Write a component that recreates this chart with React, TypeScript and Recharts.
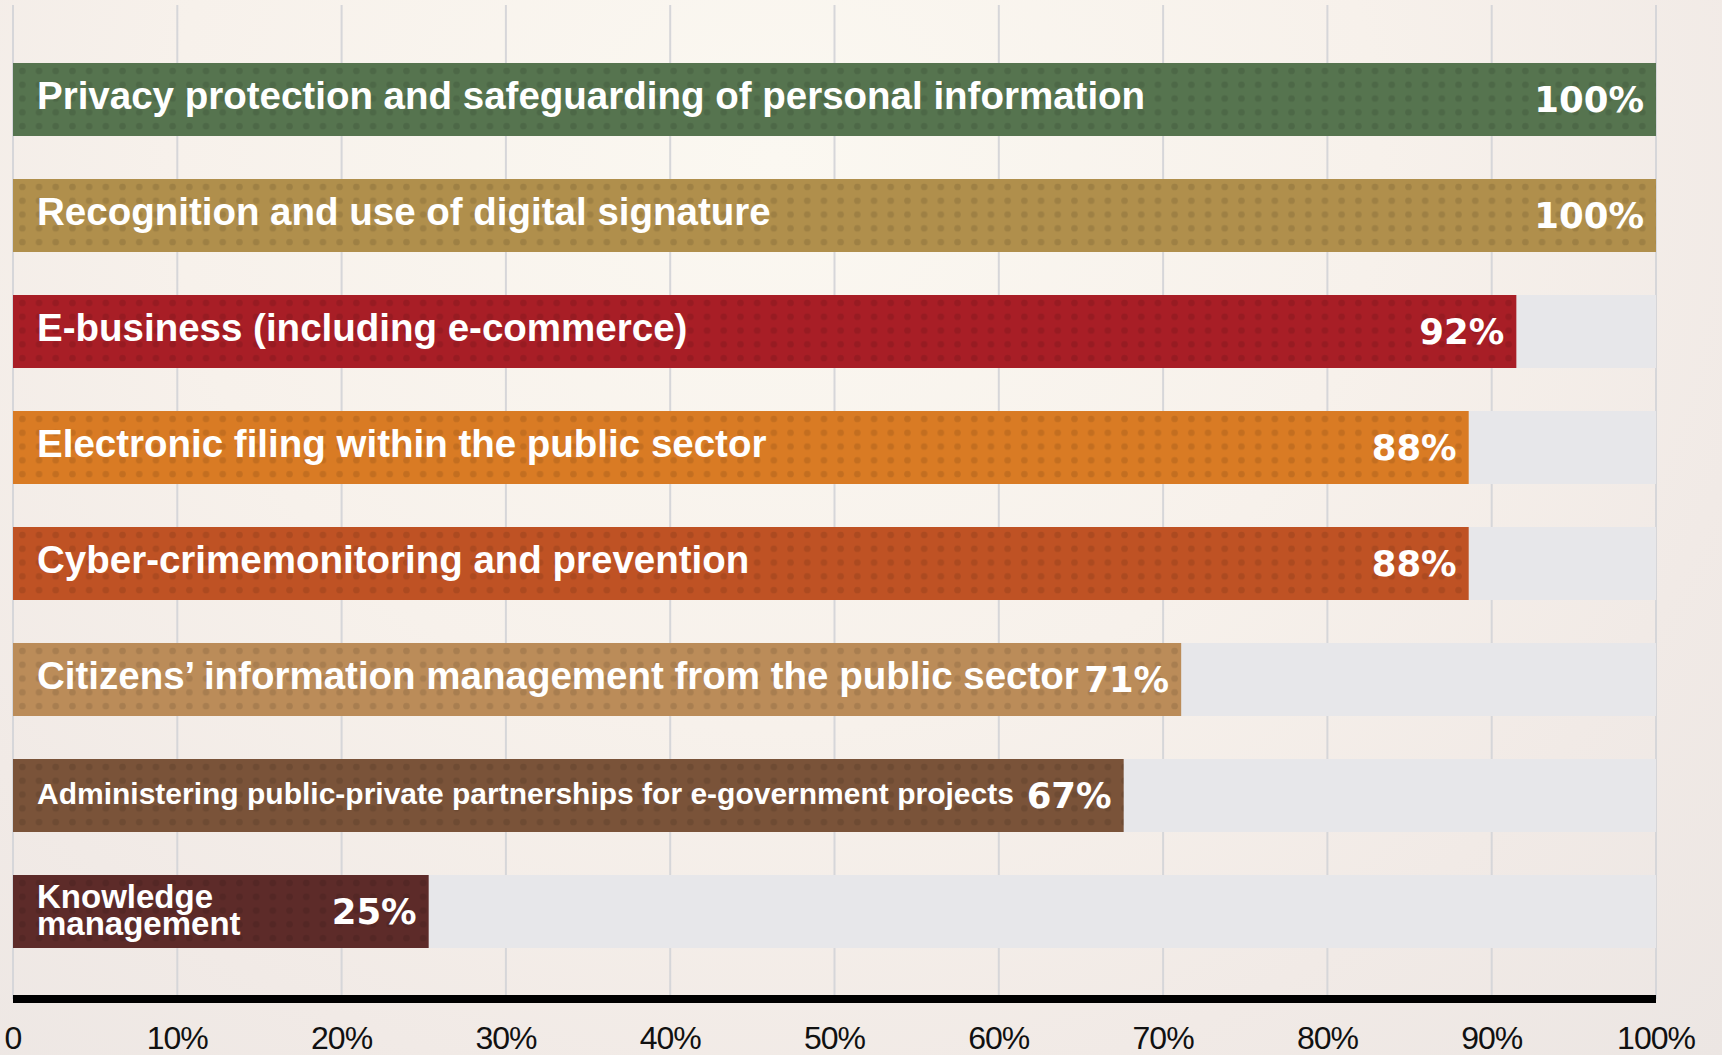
import React from 'react';
import { BarChart, Bar, XAxis, YAxis, CartesianGrid } from 'recharts';

const categories: string[] = [
  'Privacy protection and safeguarding of personal information',
  'Recognition and use of digital signature',
  'E-business (including e-commerce)',
  'Electronic filing within the public sector',
  'Cyber-crimemonitoring and prevention',
  'Citizens\u2019 information management from the public sector',
  'Administering public-private partnerships for e-government projects',
  'Knowledge\nmanagement',
];
// bar lengths as drawn in the picture (percent)
const values: number[] = [100, 100, 91.5, 88.6, 88.6, 71.1, 67.6, 25.3];
// printed value labels
const valueLabels: string[] = ['100%', '100%', '92%', '88%', '88%', '71%', '67%', '25%'];
const xTicks: number[] = [0, 10, 20, 30, 40, 50, 60, 70, 80, 90, 100];
const xTickLabels: string[] = ['0', '10%', '20%', '30%', '40%', '50%', '60%', '70%', '80%', '90%', '100%'];

const BAR_COLORS = ['#56744f', '#b08f4c', '#a81e26', '#d97b24', '#bf5224', '#bb8c59', '#7a5339', '#5d2b29'];
const NAME_SIZES = [38.5, 38.5, 38.5, 38.5, 38.5, 38.5, 30, 33];

const data = categories.map((name, i) => ({ name, value: values[i], label: valueLabels[i] }));

const LABEL_FONT = '"Liberation Sans", Arial, Helvetica, sans-serif';
const VALUE_FONT = '"DejaVu Sans", Verdana, sans-serif';

const BarShape = (props: any) => {
  const { x, y, width, height, index, payload } = props;
  const color = BAR_COLORS[index % BAR_COLORS.length];
  const cy = y + height / 2;
  const pid = `dots-${index}`;
  const nameSize = NAME_SIZES[index] ?? 38;
  const lines: string[] = String(payload.name).split('\n');
  return (
    <g>
      <defs>
        <pattern id={pid} patternUnits="userSpaceOnUse" x={x + 1} y={y + 1} width={16.7} height={13.8}>
          <circle cx={8.35} cy={6.9} r={3.3} fill="#000" fillOpacity={0.1} />
        </pattern>
      </defs>
      <rect x={x} y={y} width={width} height={height} fill={color} />
      <rect x={x} y={y} width={width} height={height} fill={`url(#${pid})`} />
      {lines.length === 1 ? (
        <text
          x={x + 24}
          y={cy - (nameSize >= 38 ? 4 : 2) + nameSize * 0.358}
          fill="#ffffff"
          fontFamily={LABEL_FONT}
          fontWeight="bold"
          fontSize={nameSize}
        >
          {lines[0]}
        </text>
      ) : (
        <text x={x + 24} fill="#ffffff" fontFamily={LABEL_FONT} fontWeight="bold" fontSize={nameSize}>
          <tspan x={x + 24} y={cy - 4}>{lines[0]}</tspan>
          <tspan x={x + 24} y={cy + 23}>{lines[1]}</tspan>
        </text>
      )}
      <text
        x={x + width - 12}
        y={cy + 35 * 0.365}
        textAnchor="end"
        fill="#ffffff"
        fontFamily={VALUE_FONT}
        fontWeight="bold"
        fontSize={35.5}
      >
        {payload.label}
      </text>
    </g>
  );
};

const XTick = (props: any) => {
  const { x, y, index } = props;
  return (
    <text
      x={x}
      y={y + 50}
      textAnchor="middle"
      fill="#111111"
      fontFamily={LABEL_FONT}
      fontSize={32}
      letterSpacing={-1}
    >
      {xTickLabels[index]}
    </text>
  );
};

export default function App() {
  return (
    <div
      style={{
        position: 'absolute',
        left: 0,
        top: 0,
        width: 1722,
        height: 1055,
        overflow: 'hidden',
        background:
          'radial-gradient(ellipse at 45% 15%, #fbf8f1 0%, #f7f1eb 45%, #f1eae6 75%, #ece6e3 100%)',
      }}
    >
      <BarChart
        width={1722}
        height={1055}
        data={data}
        layout="vertical"
        margin={{ top: 5, right: 66, left: 13, bottom: 0 }}
      >
        <CartesianGrid vertical horizontal={false} stroke="#d6d6d9" strokeWidth={2} />
        <XAxis
          xAxisId="top"
          orientation="top"
          type="number"
          domain={[0, 100]}
          ticks={xTicks}
          height={0}
          tick={false}
          tickLine={false}
          axisLine={{ stroke: '#d6d6d9', strokeWidth: 2 }}
        />
        <XAxis
          type="number"
          domain={[0, 100]}
          ticks={xTicks}
          height={56}
          tickLine={false}
          tickSize={0}
          tickMargin={0}
          interval={0}
          tick={<XTick />}
          axisLine={{ stroke: '#000000', strokeWidth: 8 }}
        />
        <YAxis
          type="category"
          dataKey="name"
          width={0}
          tick={false}
          tickLine={false}
          padding={{ top: 36, bottom: 30 }}
          axisLine={{ stroke: '#1c1c1c', strokeWidth: 2 }}
        />
        <Bar
          dataKey="value"
          barSize={73}
          background={{ fill: '#e7e7ea' }}
          shape={<BarShape />}
          isAnimationActive={false}
        />
      </BarChart>
    </div>
  );
}
